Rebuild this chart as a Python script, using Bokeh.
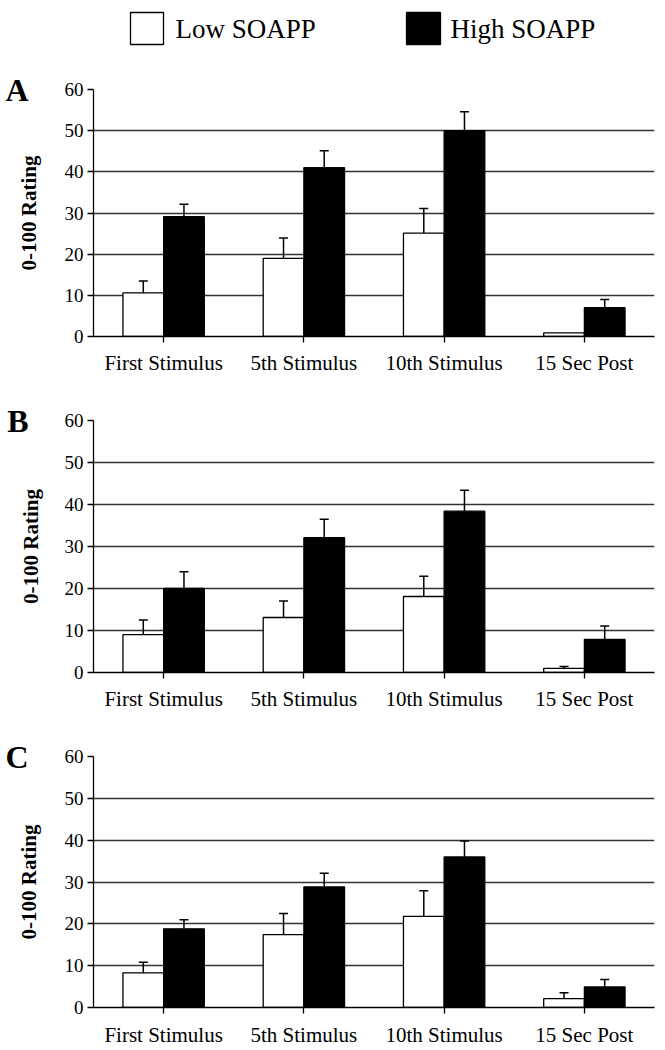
from bokeh.plotting import figure
from bokeh.models import (FactorRange, Range1d, ColumnDataSource, Whisker, TeeHead,
                          FixedTicker, LinearAxis)
from bokeh.core.properties import value
from bokeh.transform import dodge
from bokeh.layouts import column
from bokeh.embed import file_html
from bokeh.resources import INLINE

categories = ["First Stimulus", "5th Stimulus", "10th Stimulus", "15 Sec Post"]
series_names = ["Low SOAPP", "High SOAPP"]
series_colors = ["white", "black"]
y_ticks = [0, 10, 20, 30, 40, 50, 60]

A_low = [10.6, 19.0, 25.1, 0.9]
A_low_err = [2.9, 4.9, 6.0, 0.0]
A_high = [29.1, 41.0, 50.0, 7.0]
A_high_err = [3.0, 4.1, 4.6, 2.0]

B_low = [9.0, 13.1, 18.1, 1.0]
B_low_err = [3.5, 3.9, 4.8, 0.4]
B_high = [20.0, 32.1, 38.4, 7.9]
B_high_err = [4.0, 4.4, 5.0, 3.2]

C_low = [8.3, 17.4, 21.8, 2.1]
C_low_err = [2.5, 5.1, 6.1, 1.4]
C_high = [18.8, 28.8, 36.0, 4.9]
C_high_err = [2.2, 3.3, 3.8, 1.8]

FONT = "Liberation Serif"
W = 665
LEFT = 93
RIGHT = 11
OFF = 0.145
BW = 0.29


def make_panel(letter, low, low_err, high, high_err, height, top, bottom, xstand):
    p = figure(x_range=FactorRange(*categories), y_range=Range1d(0, 60),
               width=W, height=height, output_backend="svg", toolbar_location=None,
               min_border_left=LEFT, min_border_right=RIGHT,
               min_border_top=top, min_border_bottom=bottom)
    p.outline_line_color = None
    p.background_fill_color = "white"
    p.border_fill_color = "white"

    src = ColumnDataSource(dict(cat=categories, low=low, high=high))
    p.vbar(x=dodge("cat", -OFF, range=p.x_range), top="low", width=BW, source=src,
           fill_color=series_colors[0], line_color="black", line_width=1.3)
    p.vbar(x=dodge("cat", OFF, range=p.x_range), top="high", width=BW, source=src,
           fill_color=series_colors[1], line_color="black", line_width=1.3)

    for vals, errs, off in ((low, low_err, -OFF), (high, high_err, OFF)):
        idx = [i for i, e in enumerate(errs) if e > 0]
        ws = ColumnDataSource(dict(
            cat=[categories[i] for i in idx],
            lower=[vals[i] for i in idx],
            upper=[vals[i] + errs[i] for i in idx]))
        w = Whisker(source=ws, base=dodge("cat", off, range=p.x_range),
                    lower="lower", upper="upper", dimension="height",
                    line_color="black", line_width=1.5, lower_head=None,
                    upper_head=TeeHead(size=9, line_color="black", line_width=1.5))
        p.add_layout(w)

    p.xgrid.visible = False
    p.ygrid.ticker = FixedTicker(ticks=y_ticks)
    p.ygrid.grid_line_color = "#333333"
    p.ygrid.grid_line_width = 1.3

    ya = p.left[0]
    ya.ticker = FixedTicker(ticks=y_ticks)
    ya.minor_tick_line_color = None
    ya.major_tick_in = 0
    ya.major_tick_out = 6
    ya.major_label_standoff = 4
    ya.major_label_text_font = FONT
    ya.major_label_text_font_size = "19px"
    ya.major_label_text_color = "black"
    ya.axis_line_color = "black"
    ya.axis_line_width = 1.3
    ya.major_tick_line_width = 1.3

    # outer left axis: panel letter at the top tick and the axis title
    la = LinearAxis(ticker=FixedTicker(ticks=[60]), major_label_overrides={60: letter},
                    axis_line_color=None, major_tick_line_color=None,
                    minor_tick_line_color=None, major_tick_in=0, major_tick_out=0,
                    major_label_standoff=33,
                    major_label_text_font=FONT, major_label_text_font_style="bold",
                    major_label_text_font_size="32px", major_label_text_color="black",
                    axis_label="0-100 Rating", axis_label_standoff=-39,
                    axis_label_text_font=FONT, axis_label_text_font_style="bold",
                    axis_label_text_font_size="21px", axis_label_text_color="black")
    p.add_layout(la, "left")

    xa = p.below[0]
    xa.major_tick_in = 0
    xa.major_tick_out = 6
    xa.major_label_standoff = xstand
    xa.major_label_text_font = FONT
    xa.major_label_text_font_size = "21px"
    xa.major_label_text_color = "black"
    xa.axis_line_color = "black"
    xa.axis_line_width = 1.3
    xa.major_tick_line_width = 1.3
    return p


# legend strip: its frame is aligned with the panels' frames, ranges in page pixels
leg = figure(width=W, height=60, x_range=Range1d(LEFT, W - RIGHT), y_range=Range1d(0, 60),
             x_axis_type=None, y_axis_type=None, output_backend="svg",
             toolbar_location=None, min_border_left=LEFT, min_border_right=RIGHT,
             min_border_top=0, min_border_bottom=0)
leg.outline_line_color = None
leg.xgrid.visible = False
leg.ygrid.visible = False
leg.background_fill_color = "white"
leg.border_fill_color = "white"
sw_left = [130, 406]
sw_right = [163, 440]
txt_x = [175, 450]
leg.quad(left=sw_left, right=sw_right, bottom=[16, 16], top=[48, 48],
         fill_color=series_colors, line_color="black", line_width=1.3)
leg.text(x=txt_x, y=[32, 32], text=series_names, text_font=value(FONT),
         text_font_size="27px", text_baseline="middle", text_align="left",
         text_color="black")

pA = make_panel("A", A_low, A_low_err, A_high, A_high_err, 332, 29, 56, 8)
pB = make_panel("B", B_low, B_low_err, B_high, B_high_err, 336, 28, 56, 8)
pC = make_panel("C", C_low, C_low_err, C_high, C_high_err, 321, 28, 41, 9)

lay = column(leg, pA, pB, pC, spacing=0)
open("out.html", "w").write(file_html(lay, INLINE))
